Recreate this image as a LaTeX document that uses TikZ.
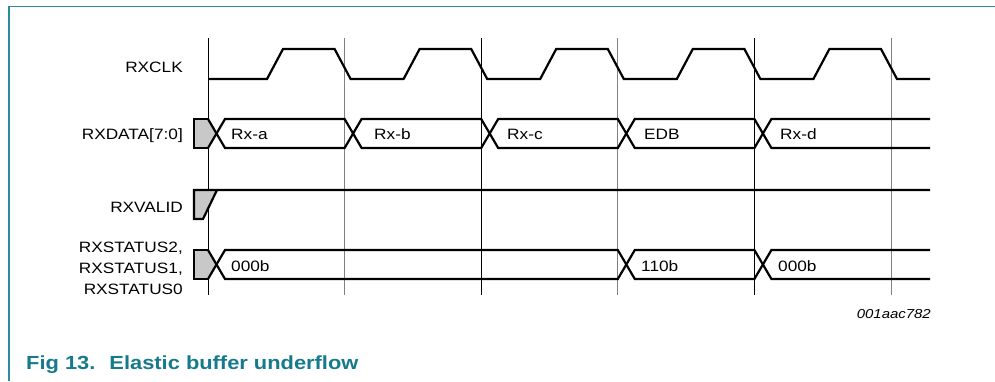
\documentclass[tikz,border=0pt]{standalone}
\usepackage{fontspec}
\setmainfont[FakeStretch=1.15]{Liberation Sans}
\definecolor{frameteal}{RGB}{44,140,156}
\definecolor{capteal}{RGB}{22,122,140}
\definecolor{boxgray}{RGB}{200,200,200}
\definecolor{gridgray}{RGB}{128,128,128}
\begin{document}
\begin{tikzpicture}[x=1pt,y=-1pt,
  sig/.style={line width=2.2pt,line join=miter,black},
  gridblack/.style={line width=0.9pt,black},
  gridgr/.style={line width=0.9pt,gridgray},
  lbl/.style={font=\fontsize{15}{18}\selectfont,inner sep=0pt,anchor=base east},
  val/.style={font=\fontsize{15}{18}\selectfont,inner sep=0pt,anchor=base west},
  ini/.style={fill=boxgray,draw=none}]
\useasboundingbox (0,0) rectangle (995,381);
% frame
\draw[frameteal,line width=1.5pt] (9,381) -- (9,6.5) -- (995,6.5);
% grid lines
\draw[gridblack] (208,38) -- (208,295);
\draw[gridgr] (344.6,38) -- (344.6,295);
\draw[gridblack] (481.2,38) -- (481.2,295);
\draw[gridgr] (617.8,38) -- (617.8,295);
\draw[gridblack] (754.4,38) -- (754.4,295);
\draw[gridgr] (891,38) -- (891,295);
% labels
\node[lbl] (lclk) at (183,72.5) {RXCLK};
\node[lbl] (ldata) at (183,139) {RXDATA[7:0]};
\node[lbl] (lvalid) at (183,212.3) {RXVALID};
\node[lbl] (lst2) at (183,252) {RXSTATUS2,};
\node[lbl] (lst1) at (183,273) {RXSTATUS1,};
\node[lbl] (lst0) at (183,294.5) {RXSTATUS0};
% clock
\draw[sig] (208,79) -- (267,79) -- (283,49) -- (334.6,49) -- (350.6,79)
  -- (403.6,79) -- (419.6,49) -- (471.2,49) -- (487.2,79)
  -- (540.2,79) -- (556.2,49) -- (607.8,49) -- (623.8,79)
  -- (676.8,79) -- (692.8,49) -- (744.4,49) -- (760.4,79)
  -- (813.4,79) -- (829.4,49) -- (881,49) -- (897,79) -- (930,79);
% RXDATA
\fill[ini] (194,119) -- (208,119) -- (216.5,133.5) -- (208,148) -- (194,148) -- cycle;
\draw[sig] (208,119) -- (194,119) -- (194,148) -- (208,148);
\draw[sig] (208,119) -- (225,148) -- (344.6,148) -- (361.6,119) -- (481.2,119) -- (498.2,148)
  -- (617.8,148) -- (634.8,119) -- (754.4,119) -- (771.4,148) -- (930,148);
\draw[sig] (208,148) -- (225,119) -- (344.6,119) -- (361.6,148) -- (481.2,148) -- (498.2,119)
  -- (617.8,119) -- (634.8,148) -- (754.4,148) -- (771.4,119) -- (930,119);
\node[val] (da) at (231,139) {Rx-a};
\node[val] (db) at (374,139) {Rx-b};
\node[val] (dc) at (507,139) {Rx-c};
\node[val] (dedb) at (644,139) {EDB};
\node[val] (dd) at (780,139) {Rx-d};
% RXVALID
\fill[ini] (194,190) -- (217,190) -- (203,219) -- (194,219) -- cycle;
\draw[sig] (930,190) -- (194,190) -- (194,219) -- (203,219) -- (217,190);
% RXSTATUS
\fill[ini] (194,250) -- (208,250) -- (216.5,264.5) -- (208,279) -- (194,279) -- cycle;
\draw[sig] (208,250) -- (194,250) -- (194,279) -- (208,279);
\draw[sig] (208,250) -- (225,279) -- (617.8,279) -- (634.8,250) -- (754.4,250) -- (771.4,279) -- (930,279);
\draw[sig] (208,279) -- (225,250) -- (617.8,250) -- (634.8,279) -- (754.4,279) -- (771.4,250) -- (930,250);
\node[val] (sa) at (231,271) {000b};
\node[val] (sb) at (641,271) {110b};
\node[val] (sc) at (778,271) {000b};
% id
\node[font=\fontsize{13}{15}\selectfont\itshape,inner sep=0pt,anchor=base east] (fid) at (931,318) {001aac782};
% caption
\node[font=\fontsize{19}{22}\selectfont\bfseries,text=capteal,inner sep=0pt,anchor=base west] (cap) at (26,369.5) {Fig 13.\hspace{6pt} Elastic buffer underflow};
\end{tikzpicture}
\end{document}
